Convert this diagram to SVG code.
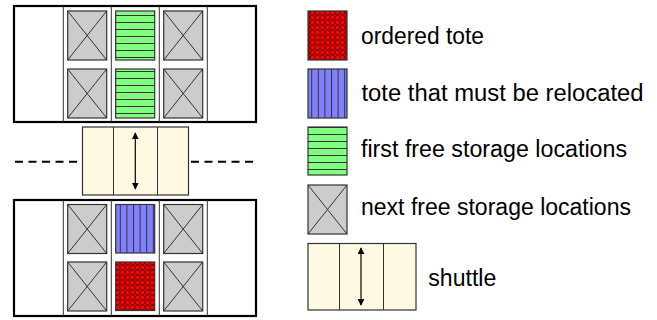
<svg xmlns="http://www.w3.org/2000/svg" width="657" height="320" viewBox="0 0 657 320">
<style>
.outer{fill:#fff;stroke:#000;stroke-width:2.2}
.col{stroke:#333;stroke-width:1;fill:none}
.box{stroke:#333;stroke-width:1.2}
.gray{fill:#cccccc}
.cross{stroke:#333;stroke-width:1;fill:none}
.shut{fill:#fdf9e2;stroke:#333;stroke-width:1.2}
.arrow{stroke:#000;stroke-width:1.2;fill:none;marker-start:url(#ah);marker-end:url(#ah)}
.dash{stroke:#000;stroke-width:2;stroke-dasharray:8 5.5;fill:none}
text{font-family:"Liberation Sans",Arial,sans-serif;font-size:23px;fill:#000}
</style>
<defs>
<marker id="ah" viewBox="0 0 10 10" refX="9" refY="5" markerWidth="7" markerHeight="7" markerUnits="userSpaceOnUse" orient="auto-start-reverse">
<path d="M0,0 L10,5 L0,10 z" fill="#000"/>
</marker>
<pattern id="hstripe" patternUnits="userSpaceOnUse" width="10" height="7" x="0" y="1">
<rect width="10" height="7" fill="#80ff80"/>
<line x1="0" y1="0.5" x2="10" y2="0.5" stroke="#333" stroke-width="1"/>
</pattern>
<pattern id="vstripe" patternUnits="userSpaceOnUse" width="6.6" height="10" x="1" y="0">
<rect width="6.6" height="10" fill="#8080ff"/>
<line x1="0.5" y1="0" x2="0.5" y2="10" stroke="#333" stroke-width="1"/>
</pattern>
<pattern id="dots" patternUnits="userSpaceOnUse" width="5" height="5">
<rect width="5" height="5" fill="#6a0000"/>
<circle cx="2.5" cy="2.5" r="1.9" fill="#ff0000"/>
<circle cx="0" cy="0" r="1" fill="#ff0000"/>
<circle cx="5" cy="0" r="1" fill="#ff0000"/>
<circle cx="0" cy="5" r="1" fill="#ff0000"/>
<circle cx="5" cy="5" r="1" fill="#ff0000"/>
</pattern>
<g id="graybox">
<rect class="box gray" x="0" y="0" width="39" height="49"/>
<path class="cross" d="M0,0 L39,49 M39,0 L0,49"/>
</g>
</defs>

<g id="rack-top">
<rect class="outer" x="14" y="6" width="242" height="116"/>
<path class="col" d="M63.3,6V122 M111.3,6V122 M159.3,6V122 M207.3,6V122"/>
<use href="#graybox" x="67.7" y="11"/>
<use href="#graybox" x="163.7" y="11"/>
<use href="#graybox" x="67.7" y="69"/>
<use href="#graybox" x="163.7" y="69"/>
<rect class="box" x="115.7" y="11" width="39" height="49" fill="url(#hstripe)"/>
<rect class="box" x="115.7" y="69" width="39" height="49" fill="url(#hstripe)"/>
</g>

<g id="rack-bottom">
<rect class="outer" x="14" y="200" width="242" height="116"/>
<path class="col" d="M63.3,200V316 M111.3,200V316 M159.3,200V316 M207.3,200V316"/>
<use href="#graybox" x="67.7" y="204.5"/>
<use href="#graybox" x="163.7" y="204.5"/>
<use href="#graybox" x="67.7" y="262"/>
<use href="#graybox" x="163.7" y="262"/>
<rect class="box" x="115.7" y="204.5" width="39" height="48.5" fill="url(#vstripe)"/>
<rect class="box" x="115.7" y="262" width="39" height="48.5" fill="url(#dots)"/>
</g>

<g id="connectors">
<path class="dash" d="M15,161.7 H77"/>
<path class="dash" d="M191,161.7 H253"/>
</g>

<g id="shuttle">
<rect class="shut" x="82.5" y="127" width="106" height="68"/>
<path class="col" d="M113.5,127V195 M157.5,127V195"/>
<path class="arrow" d="M135.3,133 V189"/>
</g>

<g id="legend-ordered">
<rect class="box" x="308" y="11" width="39" height="49" fill="url(#dots)"/>
<text x="361" y="43.7" textLength="123" lengthAdjust="spacingAndGlyphs">ordered tote</text>
</g>
<g id="legend-relocate">
<rect class="box" x="308" y="69" width="39" height="49" fill="url(#vstripe)"/>
<text x="361.5" y="100.7" textLength="282" lengthAdjust="spacingAndGlyphs">tote that must be relocated</text>
</g>
<g id="legend-first">
<rect class="box" x="308" y="127" width="39" height="48" fill="url(#hstripe)"/>
<text x="361" y="156.7" textLength="266" lengthAdjust="spacingAndGlyphs">first free storage locations</text>
</g>
<g id="legend-next">
<use href="#graybox" x="308" y="185"/>
<text x="361" y="215" textLength="270" lengthAdjust="spacingAndGlyphs">next free storage locations</text>
</g>
<g id="legend-shuttle">
<rect class="shut" x="308" y="243.5" width="108" height="66.5"/>
<path class="col" d="M339.5,243.5V310 M383.5,243.5V310"/>
<path class="arrow" d="M361,248 V305"/>
<text x="428.3" y="285.7" textLength="68" lengthAdjust="spacingAndGlyphs">shuttle</text>
</g>
</svg>
